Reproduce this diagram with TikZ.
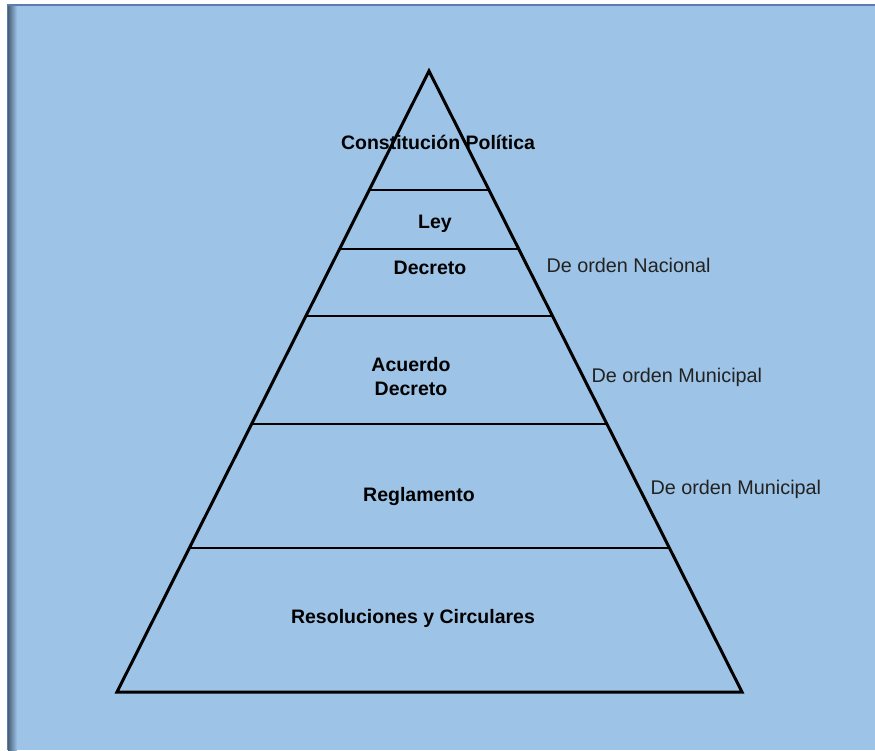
\documentclass[tikz,border=0pt]{standalone}
\usepackage{fontspec}
\setmainfont{Liberation Sans}
\usetikzlibrary{calc}
\definecolor{panel}{HTML}{9DC3E6}
\definecolor{frame}{HTML}{5B7BB3}
\definecolor{edge}{HTML}{4A6079}
\definecolor{note}{HTML}{222222}
\begin{document}
\begin{tikzpicture}[x=1pt, y=-1pt,
  tier/.style={font=\fontsize{19.5}{24}\selectfont\bfseries, align=center, text=black},
  side/.style={font=\fontsize{19.8}{24}\selectfont, anchor=west, text=note},
  wall/.style={line width=3pt, line join=miter},
  cut/.style={line width=2.5pt}]
  % page and panel
  \useasboundingbox (0,0) rectangle (875,750);
  \fill[white] (0,0) rectangle (875,750);
  \fill[panel] (7,4) rectangle (875,750);
  \fill[frame] (7,4) rectangle (875,6);
  \fill[frame] (7,4) rectangle (8,750);
  \shade[left color=edge, right color=panel] (8,6) rectangle (17,750);
  % pyramid outline
  \coordinate (apex) at (429,71);
  \coordinate (bl) at (117,692);
  \coordinate (br) at (742,692);
  \draw[wall] (apex) -- (bl) -- (br) -- cycle;
  % levels
  \foreach \t in {0.1916, 0.2866, 0.3945, 0.5684, 0.7681}
    \draw[cut] ($(apex)!\t!(bl)$) -- ($(apex)!\t!(br)$);
  \node[tier] (const) at (438,142) {Constitución Política};
  \node[tier] (ley) at (435,224) {Ley};
  \node[tier] (dec) at (430,268) {Decreto};
  \node[tier] (acu) at (411,377) {Acuerdo\\Decreto};
  \node[tier] (reg) at (419,496) {Reglamento};
  \node[tier] (res) at (413,618) {Resoluciones y Circulares};
  % scope notes
  \node[side] (nac) at (543,265) {De orden Nacional};
  \node[side] (mun1) at (588,377) {De orden Municipal};
  \node[side] (mun2) at (647,489) {De orden Municipal};
\end{tikzpicture}
\end{document}
